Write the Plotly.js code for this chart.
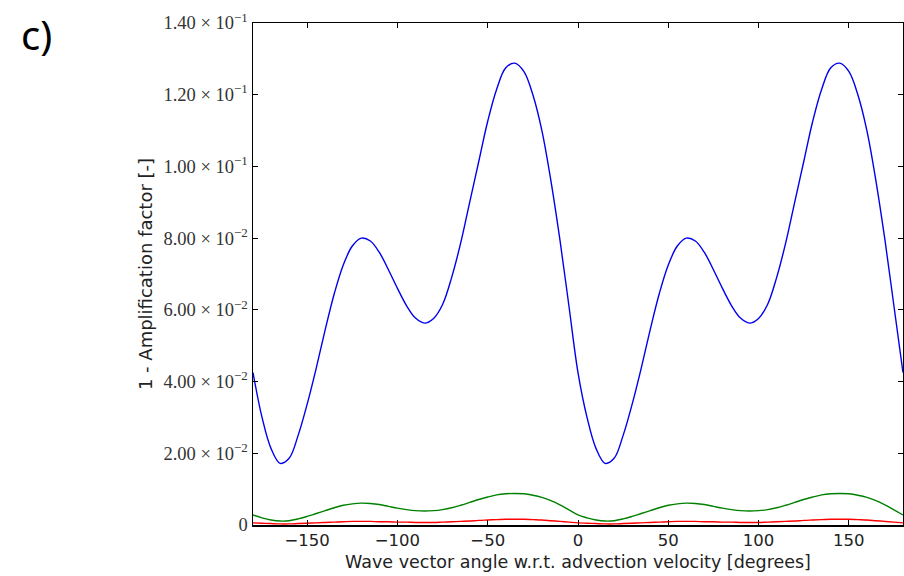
<!DOCTYPE html>
<html>
<head>
<meta charset="utf-8">
<script src="https://cdn.plot.ly/plotly-3.0.1.min.js"></script>
<style>
html,body{margin:0;padding:0;background:#fff;}
#chart{width:904px;height:576px;}
</style>
</head>
<body>
<div id="chart"></div>
<script>
// Wave vector angle [degrees]
const angles = [-180,-175,-170,-165,-160,-155,-150,-145,-140,-135,-130,-125,-120,-115,-110,-105,-100,-95,-90,-85,-80,-75,-70,-65,-60,-55,-50,-45,-40,-35,-30,-25,-20,-15,-10,-5,0,
  5,10,15,20,25,30,35,40,45,50,55,60,65,70,75,80,85,90,95,100,105,110,115,120,125,130,135,140,145,150,155,160,165,170,175,180];

// 1 - amplification factor, blue series
const blueValues = [0.0425,0.0300,0.0213,0.0172,0.0186,0.0250,0.0337,0.0437,0.0545,0.0645,0.0725,0.0778,0.0800,0.0792,0.0760,0.0712,0.0660,0.0612,0.0577,0.0563,0.0576,0.0615,0.0690,0.0786,0.0900,0.1013,0.1126,0.1216,0.1275,0.1288,0.1265,0.1200,0.1100,0.0960,0.0795,0.0610,0.0425,
  0.0300,0.0213,0.0172,0.0186,0.0250,0.0337,0.0437,0.0545,0.0645,0.0725,0.0778,0.0800,0.0792,0.0760,0.0712,0.0660,0.0612,0.0577,0.0563,0.0576,0.0615,0.0690,0.0786,0.0900,0.1013,0.1126,0.1216,0.1275,0.1288,0.1265,0.1200,0.1100,0.0960,0.0795,0.0610,0.0425];

// green series
const greenValues = [0.0028,0.0020,0.0014,0.0011,0.0012,0.0017,0.0024,0.0032,0.0040,0.0048,0.0055,0.0059,0.0061,0.0060,0.0057,0.0052,0.0047,0.0043,0.0040,0.0039,0.0040,0.0043,0.0048,0.0055,0.0063,0.0071,0.0078,0.0084,0.0087,0.0088,0.0087,0.0083,0.0077,0.0068,0.0056,0.0042,0.0028,
  0.0020,0.0014,0.0011,0.0012,0.0017,0.0024,0.0032,0.0040,0.0048,0.0055,0.0059,0.0061,0.0060,0.0057,0.0052,0.0047,0.0043,0.0040,0.0039,0.0040,0.0043,0.0048,0.0055,0.0063,0.0071,0.0078,0.0084,0.0087,0.0088,0.0087,0.0083,0.0077,0.0068,0.0056,0.0042,0.0028];

// red series
const redValues = [0.0006,0.0005,0.0004,0.0003,0.0003,0.0004,0.0005,0.0006,0.0007,0.0008,0.0009,0.0010,0.0010,0.0010,0.0009,0.0009,0.0008,0.0008,0.0007,0.0007,0.0007,0.0008,0.0009,0.0010,0.0011,0.0013,0.0014,0.0015,0.0016,0.0016,0.0016,0.0015,0.0014,0.0012,0.0010,0.0008,0.0006,
  0.0005,0.0004,0.0003,0.0003,0.0004,0.0005,0.0006,0.0007,0.0008,0.0009,0.0010,0.0010,0.0010,0.0009,0.0009,0.0008,0.0008,0.0007,0.0007,0.0007,0.0008,0.0009,0.0010,0.0011,0.0013,0.0014,0.0015,0.0016,0.0016,0.0016,0.0015,0.0014,0.0012,0.0010,0.0008,0.0006];

const xTickVals = [-150,-100,-50,0,50,100,150];
const xTickText = ['\u2212150','\u2212100','\u221250','0','50','100','150'];
const yTickVals = [0,0.02,0.04,0.06,0.08,0.10,0.12,0.14];
const yTickText = ['0','2.00 \u00d7 10<sup>\u22122</sup>','4.00 \u00d7 10<sup>\u22122</sup>','6.00 \u00d7 10<sup>\u22122</sup>','8.00 \u00d7 10<sup>\u22122</sup>','1.00 \u00d7 10<sup>\u22121</sup>','1.20 \u00d7 10<sup>\u22121</sup>','1.40 \u00d7 10<sup>\u22121</sup>'];

const lineStyle = (c) => ({color: c, width: 1.4, shape: 'spline', smoothing: 1});
const traces = [
  {x: angles, y: blueValues, type: 'scatter', mode: 'lines', line: lineStyle('#0000ee'), hoverinfo: 'skip'},
  {x: angles, y: greenValues, type: 'scatter', mode: 'lines', line: lineStyle('#008000'), hoverinfo: 'skip'},
  {x: angles, y: redValues, type: 'scatter', mode: 'lines', line: lineStyle('#ff0000'), hoverinfo: 'skip'}
];

const layout = {
  width: 904, height: 576,
  margin: {l: 253, r: 1, t: 23, b: 51, pad: 0},
  paper_bgcolor: '#ffffff', plot_bgcolor: '#ffffff',
  showlegend: false,
  xaxis: {
    range: [-180, 180], tickvals: xTickVals, ticktext: xTickText,
    ticks: 'inside', ticklen: 5, tickcolor: '#000', tickwidth: 1,
    showline: true, linecolor: '#000', linewidth: 1.5, mirror: 'allticks',
    showgrid: false, zeroline: false,
    tickfont: {family: 'DejaVu Sans', size: 16.5, color: '#222'},
    title: {text: 'Wave vector angle w.r.t. advection velocity [degrees]', font: {family: 'DejaVu Sans', size: 17.5, color: '#222'}, standoff: 6}
  },
  yaxis: {
    range: [0, 0.14], tickvals: yTickVals, ticktext: yTickText,
    ticks: 'inside', ticklen: 5, tickcolor: '#000', tickwidth: 1,
    showline: true, linecolor: '#000', linewidth: 1.5, mirror: 'allticks',
    showgrid: false, zeroline: false,
    tickfont: {family: 'Liberation Serif', size: 18.5, color: '#333'},
    title: {text: '1 - Amplification factor [-]', font: {family: 'DejaVu Sans', size: 18, color: '#222'}, standoff: 6}
  },
  annotations: [{
    text: 'c)', xref: 'paper', yref: 'paper', x: -0.36, y: 1.035,
    xanchor: 'left', yanchor: 'top', showarrow: false,
    font: {family: 'Noto Sans', size: 40, color: '#000'}
  }]
};

Plotly.newPlot('chart', traces, layout, {displayModeBar: false, staticPlot: true});
</script>
</body>
</html>
